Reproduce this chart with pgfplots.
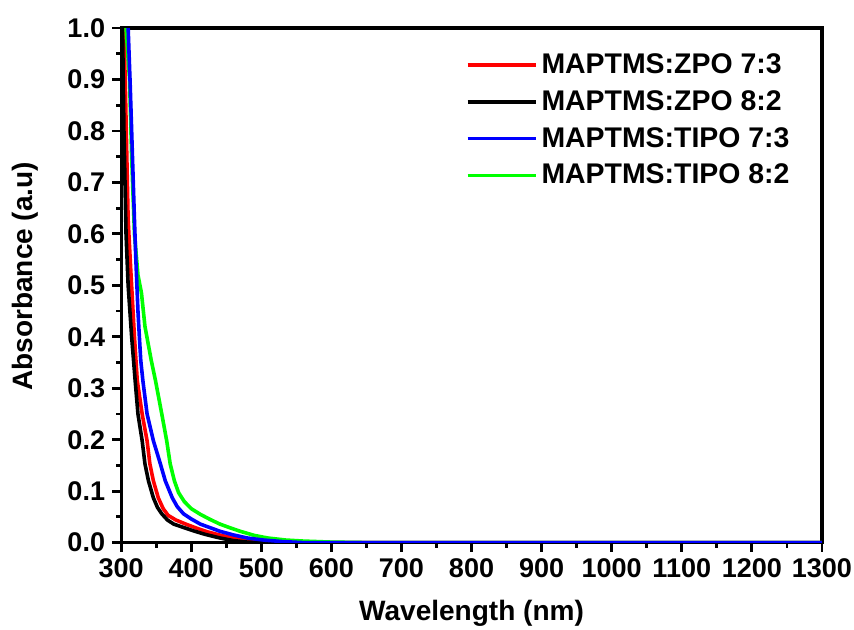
\documentclass[border=0pt]{standalone}
\usepackage{fontspec}
\setmainfont{Liberation Sans}
\usepackage{pgfplots}
\pgfplotsset{compat=1.18}
\usetikzlibrary{calc}

\definecolor{cred}{RGB}{255,0,0}
\definecolor{cblack}{RGB}{0,0,0}
\definecolor{cblue}{RGB}{0,0,255}
\definecolor{cgreen}{RGB}{0,255,0}

\begin{document}
\begin{tikzpicture}
\begin{axis}[
    name=ax,
    scale only axis,
    width=350pt, height=257pt,
    xmin=300, xmax=1300, ymin=0, ymax=1,
    xtick={300,400,...,1300},
    ytick={0,0.1,...,1.0},
    minor x tick num=1,
    minor y tick num=1,
    xtick pos=bottom, ytick pos=left,
    tick align=outside,
    major tick length=4.5pt,
    minor tick length=2.5pt,
    every tick/.style={line width=1.4pt, black},
    axis line style={line width=1.6pt},
    tick label style={font=\bfseries\fontsize{13.5}{14}\selectfont},
    /pgf/number format/assume math mode=true,
    /pgf/number format/1000 sep={},
    yticklabel style={/pgf/number format/.cd, fixed, fixed zerofill, precision=1},
    xlabel={Wavelength (nm)},
    ylabel={Absorbance (a.u)},
    label style={font=\bfseries\fontsize{14}{14}\selectfont},
    xlabel style={yshift=-4.5pt},
    ylabel style={yshift=7.5pt, xshift=4.5pt},
    legend style={draw=none, fill=none, at={(1,1)}, anchor=north east,
        xshift=-11pt, yshift=-8.5pt,
        font=\bfseries\fontsize{14.2}{14.2}\selectfont,
        row sep=3pt},
    legend cell align=left,
    legend image code/.code={\draw[#1, line width=1.8pt] (0pt,0pt) -- (34pt,0pt);},
    every axis plot/.append style={line width=1.8pt},
    clip=true,
]
% MAPTMS:ZPO 7:3
\addplot[cred] coordinates {
(301,1.15) (304,1.0) (306,0.886) (308,0.757) (310,0.627) (314,0.523)
(319,0.40) (323,0.315) (330,0.25) (337,0.198) (341,0.153) (346,0.12)
(353,0.087) (360,0.066) (367,0.053) (378,0.044) (394,0.035) (410,0.027)
(423,0.021) (440,0.015) (460,0.009) (475,0.005) (490,0.002) (510,0.0)
(600,0.0) (800,0.0) (1000,0.0) (1300,0.0)};
\addlegendentry{MAPTMS:ZPO 7:3}
% MAPTMS:ZPO 8:2
\addplot[cblack] coordinates {
(300,1.1) (302,1.0) (304,0.8) (307,0.6) (310,0.5) (315,0.40)
(320,0.315) (324,0.25) (330,0.198) (334,0.153) (339,0.12) (346,0.087)
(352,0.068) (358,0.056) (366,0.044) (375,0.036) (390,0.029) (403,0.023)
(420,0.016) (441,0.009) (460,0.004) (480,0.001) (500,0.0) (600,0.0)
(800,0.0) (1000,0.0) (1300,0.0)};
\addlegendentry{MAPTMS:ZPO 8:2}
% MAPTMS:TIPO 8:2 (drawn under the blue curve)
\addplot[cgreen, forget plot] coordinates {
(305,1.15) (307,1.0) (312,0.9) (315,0.75) (319,0.6) (324,0.52)
(329,0.485) (334,0.42) (343,0.354) (349,0.315) (358,0.25) (365,0.198)
(370,0.153) (376,0.12) (382,0.097) (390,0.080) (400,0.066) (413,0.055)
(427,0.045) (441,0.036) (455,0.029) (470,0.022) (490,0.014) (509,0.009)
(535,0.005) (560,0.003) (600,0.001) (650,0.0) (800,0.0) (1000,0.0)
(1300,0.0)};
% MAPTMS:TIPO 7:3
\addplot[cblue] coordinates {
(308,1.15) (310,1.0) (313,0.886) (316,0.757) (319,0.627) (321,0.55)
(324,0.45) (326,0.40) (328,0.354) (331,0.315) (337,0.25) (346,0.198)
(356,0.153) (363,0.12) (373,0.087) (380,0.070) (389,0.056) (400,0.046)
(413,0.036) (427,0.029) (441,0.022) (460,0.015) (480,0.009) (503,0.005)
(530,0.002) (560,0.0) (700,0.0) (900,0.0) (1100,0.0) (1300,0.0)};
\addlegendentry{MAPTMS:TIPO 7:3}
\addlegendimage{cgreen}
\addlegendentry{MAPTMS:TIPO 8:2}
\end{axis}
\pgfresetboundingbox
\path[use as bounding box] ($(ax.south west)+(-60.5pt,-43.5pt)$) rectangle ($(ax.north east)+(16pt,14pt)$);
\end{tikzpicture}
\end{document}
